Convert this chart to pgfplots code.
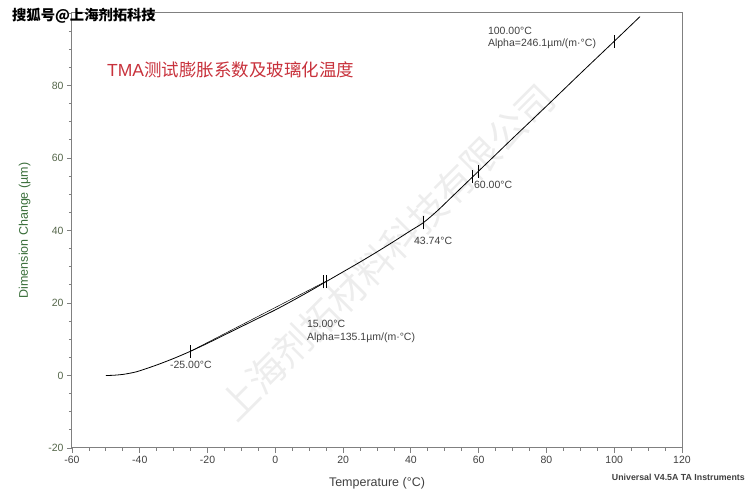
\documentclass[border=0pt]{standalone}
\usepackage{pgfplots}
\pgfplotsset{compat=1.18}
\usepackage{fontspec}
\setmainfont{Liberation Sans}
\newfontfamily\cjk{Noto Sans CJK SC}
\definecolor{axgray}{HTML}{808080}
\definecolor{tickx}{HTML}{404040}
\definecolor{ticky}{HTML}{55664A}
\definecolor{ylab}{HTML}{3A6E3A}
\definecolor{titred}{HTML}{C8323C}
\begin{document}
\begin{tikzpicture}
\begin{axis}[
  name=ax,
  scale only axis,
  width=610pt, height=435pt,
  xmin=-60, xmax=120, ymin=-20, ymax=100,
  xtick={-60,-40,...,120},
  ytick={-20,0,...,80},
  minor xtick={-55,-50,...,120},
  minor ytick={-15,-10,...,100},
  tick align=outside,
  xtick pos=left, ytick pos=left,
  major tick length=5pt, minor tick length=3pt,
  axis line style={axgray, line width=1pt},
  every tick/.style={axgray, line width=0.8pt},
  tick label style={font=\fontsize{10.5}{12}\selectfont},
  xticklabel style={tickx},
  yticklabel style={ticky},
  /pgf/number format/assume math mode=true,
  xlabel={Temperature (°C)},
  ylabel={Dimension Change (µm)},
  xlabel style={font=\fontsize{12.5}{14}\selectfont, tickx, yshift=-7pt},
  ylabel style={font=\fontsize{12.5}{14}\selectfont, ylab, yshift=11pt},
  clip=false,
]
% faint diagonal watermark
\node[rotate=45, text=black!7, font=\cjk\fontsize{38}{42}\selectfont] at (axis cs:33,34) {上海剂拓材料科技有限公司};
% fitted line
\addplot[black, line width=0.5pt] coordinates {(-25,6.7) (15,26.0)};
% main curve
\addplot[black, line width=0.8pt, smooth] coordinates {
(-50,0) (-48,0.05) (-45,0.3) (-42,0.8) (-40,1.3) (-35,2.9) (-30,4.7)
(-25,6.7) (-20,8.9) (-15,11.2) (-10,13.5) (-5,15.8) (0,18.1) (5,20.6)
(10,23.2) (15,25.9) (20,28.6) (25,31.3) (30,34.1) (35,37.0) (40,40.0)
(43.74,42.2) (48,45.6) (52,49.2) (56,52.8) (60,56.4) (65,60.9) (70,65.4)
(80,74.3) (90,83.3) (100,92.2) (107.6,99.0)};
% cursor ticks
\addplot[black, line width=0.6pt] coordinates {(-25,4.9) (-25,8.5)};
\addplot[black, line width=0.6pt] coordinates {(14.2,24.0) (14.2,27.6)};
\addplot[black, line width=0.6pt] coordinates {(15,24.2) (15,27.8)};
\addplot[black, line width=0.6pt] coordinates {(43.74,40.3) (43.74,43.9)};
\addplot[black, line width=0.6pt] coordinates {(58.2,53.0) (58.2,56.6)};
\addplot[black, line width=0.6pt] coordinates {(60,54.6) (60,58.2)};
\addplot[black, line width=0.6pt] coordinates {(100,90.4) (100,94.0)};
% annotations
\begin{scope}[every node/.style={anchor=west, inner sep=0pt, text=tickx, font=\fontsize{10.5}{12}\selectfont}]
\node at (axis cs:-31.1,2.8) {-25.00°C};
\node at (axis cs:9.3,14.1) {15.00°C};
\node at (axis cs:9.3,10.5) {Alpha=135.1µm/(m·°C)};
\node at (axis cs:40.9,37.2) {43.74°C};
\node at (axis cs:58.6,52.7) {60.00°C};
\node at (axis cs:62.7,95.2) {100.00°C};
\node at (axis cs:62.7,91.6) {Alpha=246.1µm/(m·°C)};
\end{scope}
\node[anchor=west, inner sep=0pt, text=titred, font=\fontsize{17.5}{19}\selectfont] at (axis cs:-49.7,84.4) {TMA{\cjk 测试膨胀系数及玻璃化温度}};
\end{axis}
\node[anchor=west, inner sep=0pt, font=\cjk\fontsize{14.3}{16}\selectfont\bfseries] at ([xshift=-60pt,yshift=-3pt]ax.north west) {搜狐号@上海剂拓科技};
\node[anchor=north east, inner sep=0pt, text=tickx, font=\fontsize{8.8}{10}\selectfont\bfseries] at ([xshift=63pt,yshift=-26pt]ax.south east) {Universal V4.5A TA Instruments};
\pgfresetboundingbox
\path[use as bounding box] ([xshift=-72pt,yshift=-52pt]ax.south west) rectangle ([xshift=65pt,yshift=13pt]ax.north east);
\end{tikzpicture}
\end{document}
